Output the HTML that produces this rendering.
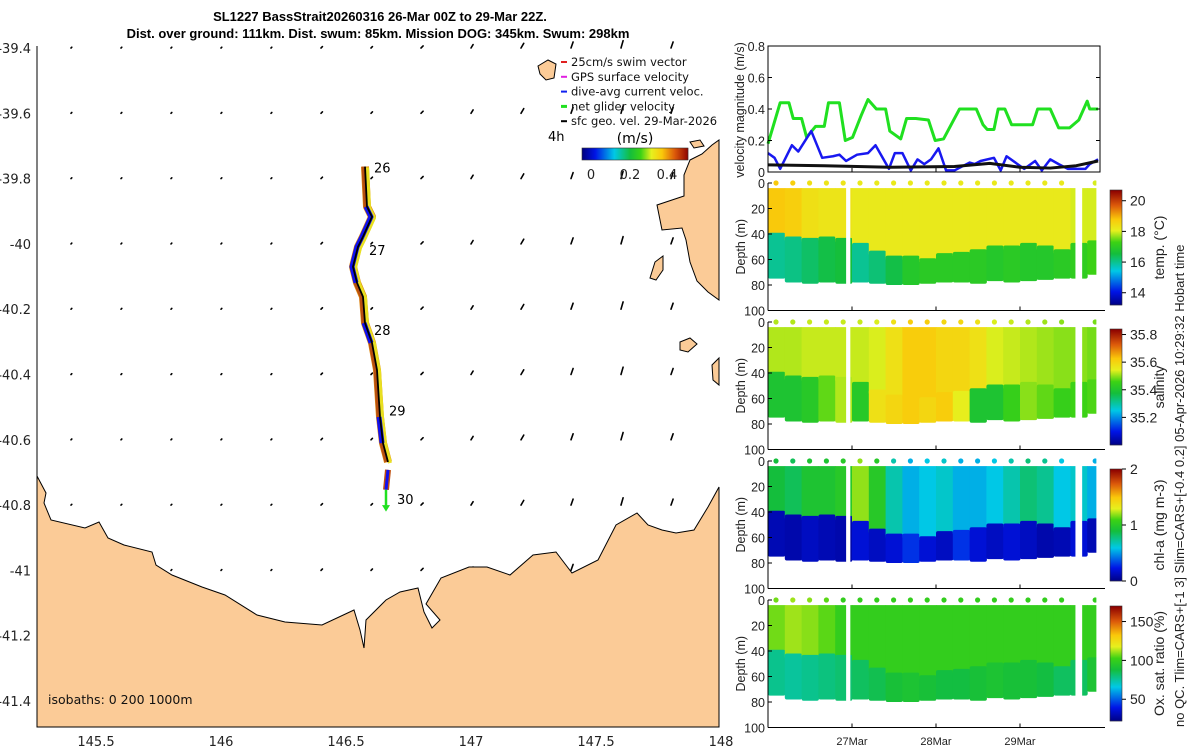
<!DOCTYPE html>
<html><head><meta charset="utf-8">
<style>
html,body{margin:0;padding:0;background:#fff;}
svg{display:block;font-family:"Liberation Sans",sans-serif;}
#map{font-family:"DejaVu Sans","Liberation Sans",sans-serif;}
</style></head>
<body>
<svg id="fig" width="1200" height="750" viewBox="0 0 1200 750" xmlns="http://www.w3.org/2000/svg">
<text x="380" y="21" text-anchor="middle" font-size="13" font-weight="bold">SL1227 BassStrait20260316 26-Mar 00Z to 29-Mar 22Z.</text>
<text x="378" y="38" text-anchor="middle" font-size="13" font-weight="bold">Dist. over ground: 111km. Dist. swum: 85km. Mission DOG: 345km. Swum: 298km</text>
<g id="map"></g>
<g id="vel"></g>
<g id="sections"></g>
<text transform="translate(1184,727) rotate(-90)" font-size="13" fill="#222">no QC. Tlim=CARS+[-1 3] Slim=CARS+[-0.4 0.2] 05-Apr-2026 10:29:32 Hobart time</text>
</svg>
<script>
const NS="http://www.w3.org/2000/svg";
function mk(tag,attrs,parent,text){const e=document.createElementNS(NS,tag);for(const k in attrs)e.setAttribute(k,attrs[k]);if(text!==undefined)e.textContent=text;parent.appendChild(e);return e;}

// ---------- MAP DATA ----------
const lonTicks=[145.5,146,146.5,147,147.5,148];
const latTicks=[-39.4,-39.6,-39.8,-40,-40.2,-40.4,-40.6,-40.8,-41,-41.2,-41.4];
const trackLon=[146.576,146.584,146.604,146.568,146.548,146.528,146.544,146.568,146.576,146.604,146.624,146.636,146.648,146.668];
const trackLat=[-39.763,-39.886,-39.917,-39.978,-40.009,-40.070,-40.119,-40.162,-40.242,-40.303,-40.386,-40.530,-40.610,-40.668];
const track2Lon=[146.668,146.660];
const track2Lat=[-40.692,-40.753];
const dayLabels=["26","27","28","29","30"];
const dayLon=[146.612,146.592,146.612,146.672,146.704];
const dayLat=[-39.766,-40.018,-40.263,-40.510,-40.781];
const vecLon=[145.4,145.6,145.8,146.0,146.2,146.4,146.6,146.8,147.0,147.2,147.4,147.6,147.8];
const vecLat=[-39.4,-39.6,-39.8,-40.0,-40.2,-40.4,-40.6,-40.8,-41.0];
const vecU=[0.0,0.0,0.0,0.0,0.0,0.005,0.005,0.01,0.01,0.015,0.01,0.01,0.01];
const vecV=[0.0,0.0,0.0,0.0,0.0,0.005,0.005,0.01,0.02,0.03,0.04,0.05,0.04];

const X=lon=>221+(lon-146)*250;
const Y=lat=>48+(-39.4-lat)*326.5;
const map=document.getElementById('map');
mk('rect',{x:37,y:46,width:682,height:681,fill:'#fff'},map);
for(let j=0;j<vecLat.length;j++)for(let i=0;i<vecLon.length;i++){
  const x=X(vecLon[i]),y=Y(vecLat[j]);
  const a=mk('line',{x1:x,y1:y,x2:x+vecU[i]*130+0.8,y2:y-vecV[i]*130-0.8,stroke:'#000','stroke-width':1.6,'stroke-linecap':'round'},map);
  
  
}
mk('polygon',{fill:'#fbcb97',stroke:'#000','stroke-width':1,
 points:'37,476 46,493 44,503 51,520 85,528 99,522 108,538 124,545 152,552 156,565 172,575 202,587 225,595 257,615 285,622 322,625 354,610 360,630 364,648 366,620 386,600 400,592 418,588 424,612 432,628 440,620 426,604 441,578 469,567 487,567 510,575 533,555 556,552 572,573 598,560 616,525 637,513 648,525 662,530 676,533 694,530 708,507 719,487 719,727 37,727'},map);
mk('polygon',{fill:'#fbcb97',stroke:'#000','stroke-width':1,
 points:'690,160 702,154 712,145 719,140 719,300 708,292 697,281 690,262 686,240 682,228 662,230 657,205 672,200 684,196 684,175'},map);
mk('polygon',{fill:'#fbcb97',stroke:'#000','stroke-width':1,points:'650,278 655,262 663,256 663,270 656,280'},map);
mk('polygon',{fill:'#fbcb97',stroke:'#000','stroke-width':1,points:'680,342 690,338 697,344 688,352 680,350'},map);
mk('polygon',{fill:'#fbcb97',stroke:'#000','stroke-width':1,points:'690,142 700,140 704,146 694,148'},map);
mk('polygon',{fill:'#fbcb97',stroke:'#000','stroke-width':1,points:'538,66 548,60 556,64 554,78 546,80 540,74'},map);
mk('polygon',{fill:'#fbcb97',stroke:'#000','stroke-width':1,points:'712,365 719,358 719,385 713,380'},map);
function pts(lo,la){return lo.map((v,i)=>X(v)+','+Y(la[i])).join(' ');}
const tp=pts(trackLon,trackLat);
mk('polyline',{points:tp,fill:'none',stroke:'#e08a10','stroke-width':8,'stroke-linejoin':'round'},map);
mk('polyline',{points:tp,fill:'none',stroke:'#e8e020','stroke-width':4,'stroke-linejoin':'round',transform:'translate(2,1)'},map);
mk('polyline',{points:tp,fill:'none',stroke:'#b85010','stroke-width':3,'stroke-linejoin':'round',transform:'translate(-2,0)'},map);
const blueIdx=[[1,3],[3,6],[8,9],[11,12]];
blueIdx.forEach(b=>{mk('polyline',{points:pts(trackLon.slice(b[0],b[1]+1),trackLat.slice(b[0],b[1]+1)),fill:'none',stroke:'#1010f0','stroke-width':5,'stroke-linejoin':'round',transform:'translate(-1,0)'},map);});
mk('polyline',{points:tp,fill:'none',stroke:'#000','stroke-width':1.8},map);
const t2=pts(track2Lon,track2Lat);
mk('polyline',{points:t2,fill:'none',stroke:'#c05010','stroke-width':6},map);
mk('polyline',{points:t2,fill:'none',stroke:'#1010f0','stroke-width':3},map);
mk('line',{x1:X(146.660),y1:Y(-40.753),x2:X(146.660),y2:Y(-40.81),stroke:'#20e020','stroke-width':2.5},map);
mk('polygon',{fill:'#20e020',points:`${X(146.660)-4},${Y(-40.80)} ${X(146.660)+4},${Y(-40.80)} ${X(146.660)},${Y(-40.82)}`},map);
dayLabels.forEach((d,i)=>{const t=mk('text',{x:X(dayLon[i]),y:Y(dayLat[i])+5,'font-size':13},map,d);});
mk('line',{x1:37,y1:46,x2:37,y2:727,stroke:'#000'},map);
mk('line',{x1:37,y1:727,x2:719,y2:727,stroke:'#000'},map);
lonTicks.forEach(l=>{const t=mk('text',{x:X(l),y:746,'text-anchor':'middle','font-size':13,fill:'#222'},map,String(l));});
latTicks.forEach(l=>{const t=mk('text',{x:31,y:Y(l)+5,'text-anchor':'end','font-size':13,fill:'#222'},map,String(l));});
mk('text',{x:48,y:704,'font-size':12.5,fill:'#111'},map,'isobaths: 0   200  1000m');
const legT=["25cm/s swim vector","GPS surface velocity","dive-avg current veloc.","net glider velocity","sfc geo. vel. 29-Mar-2026"];
const legC=["#e02020","#e020e0","#1020f0","#20e020","#000"];
legT.forEach((s,i)=>{const y=66+i*14.8;mk('line',{x1:561,y1:y-4,x2:567,y2:y-4,stroke:legC[i],'stroke-width':i==3?3:2},map);const t=mk('text',{x:571,y:y,'font-size':11.5,fill:'#111'},map,s);});
mk('text',{x:548,y:141,'font-size':13},map,'4h');
mk('text',{x:635,y:143,'font-size':14,'text-anchor':'middle'},map,'(m/s)');

const cmStops=[[0,[0,0,130]],[0.12,[0,20,230]],[0.3,[0,200,230]],[0.45,[20,190,60]],[0.55,[60,210,20]],[0.65,[230,240,30]],[0.75,[250,200,10]],[0.87,[220,90,10]],[1,[140,0,0]]];
function cmap(f){f=Math.max(0,Math.min(1,f));for(let k=1;k<cmStops.length;k++){if(f<=cmStops[k][0]){const a=cmStops[k-1],b=cmStops[k];const u=(f-a[0])/(b[0]-a[0]);return 'rgb('+a[1].map((c,i)=>Math.round(c+(b[1][i]-c)*u)).join(',')+')';}}return 'rgb(140,0,0)';}
function hbar(parent,x,y,w,h){for(let i=0;i<w;i++)mk('rect',{x:x+i,y:y,width:1.2,height:h,fill:cmap(i/w)},parent);mk('rect',{x:x,y:y,width:w,height:h,fill:'none',stroke:'#333','stroke-width':0.6},parent);}
function vbar(parent,x,y,w,h){for(let i=0;i<h;i++)mk('rect',{x:x,y:y+i,width:w,height:1.2,fill:cmap(1-i/h)},parent);mk('rect',{x:x,y:y,width:w,height:h,fill:'none',stroke:'#333','stroke-width':0.6},parent);}
const mcb=mk('g',{},map);
hbar(mcb,582,148,106,12);
[["0",591],["0.2",630],["0.4",667]].forEach(a=>mk('text',{x:a[1],y:179,'font-size':13,'text-anchor':'middle',fill:'#222'},mcb,a[0]));

// ---------- VELOCITY PANEL ----------
const greenT=[0,0.145,0.249,0.30,0.40,0.46,0.567,0.67,0.72,0.85,0.92,1.007,1.11,1.19,1.29,1.40,1.45,1.58,1.65,1.76,1.91,1.99,2.09,2.20,2.28,2.48,2.56,2.61,2.69,2.74,2.82,2.90,3.15,3.21,3.36,3.46,3.59,3.70,3.80,3.83,3.93];
const greenV=[0.18,0.44,0.44,0.34,0.34,0.22,0.29,0.29,0.44,0.44,0.20,0.22,0.36,0.46,0.40,0.40,0.26,0.21,0.34,0.34,0.33,0.20,0.21,0.32,0.40,0.40,0.30,0.27,0.27,0.40,0.40,0.30,0.30,0.40,0.40,0.28,0.28,0.33,0.45,0.40,0.40];
const blueT=[0,0.078,0.145,0.285,0.36,0.515,0.645,0.774,0.85,0.93,1.06,1.19,1.28,1.44,1.51,1.60,1.70,1.78,1.86,1.94,2.03,2.12,2.22,2.40,2.46,2.53,2.69,2.77,2.84,3.05,3.18,3.26,3.36,3.46,3.57,3.78,3.83,3.93];
const blueV=[0.12,0.09,0.02,0.17,0.13,0.26,0.09,0.10,0.11,0.07,0.11,0.12,0.17,0.02,0.12,0.12,0.01,0.08,0.05,0.08,0.15,0.01,0.01,0.06,0.05,0.07,0.09,0.01,0.10,0.02,0.07,0.01,0.08,0.05,0.02,0.02,0.05,0.08];
const blackT=[0,0.67,1.45,2.22,2.64,3.00,3.36,3.67,3.93];
const blackV=[0.045,0.04,0.03,0.035,0.055,0.03,0.025,0.04,0.07];
const velTicks=[0,0.2,0.4,0.6,0.8];
const TX=t=>768+t*84;
const VY=v=>172-v*157.5;
const vel=document.getElementById('vel');
function series(T,V,col,w,name){const p=mk('polyline',{points:T.map((t,i)=>TX(t)+','+VY(V[i])).join(' '),fill:'none',stroke:col,'stroke-width':w,'stroke-linejoin':'round'},vel);}
series(greenT,greenV,'#20e020',3,'net-glider-velocity-line');
series(blueT,blueV,'#1818f0',2.5,'dive-avg-current-line');
series(blackT,blackV,'#111',3,'sfc-geo-velocity-line');
mk('rect',{x:768,y:46,width:332,height:126,fill:'none',stroke:'#000','stroke-width':1},vel);
velTicks.forEach(v=>{mk('line',{x1:768,y1:VY(v),x2:772,y2:VY(v),stroke:'#000'},vel);mk('line',{x1:1096,y1:VY(v),x2:1100,y2:VY(v),stroke:'#000'},vel);const t=mk('text',{x:765,y:VY(v)+5,'text-anchor':'end','font-size':12.5,fill:'#222'},vel,String(v));});
[1,2,3].forEach(d=>mk('line',{x1:TX(d),y1:172,x2:TX(d),y2:168,stroke:'#000'},vel));
mk('text',{transform:'translate(744,110) rotate(-90)','text-anchor':'middle','font-size':12.5,fill:'#222'},vel,'velocity magnitude (m/s)');

// ---------- SECTION PANELS ----------
const colT=[0,0.2,0.4,0.6,0.8,1.0,1.2,1.4,1.6,1.8,2.0,2.2,2.4,2.6,2.8,3.0,3.2,3.4,3.6,3.8];
const mld=[42,45,46,45,46,50,56,60,60,62,58,57,55,52,52,50,52,55,50,48];
const botDepth=[75,78,79,78,79,78,79,80,80,79,78,78,79,77,78,77,76,75,75,72];
const gaps=[[0.93,0.98],[3.66,3.74],[3.91,4.0]];
const tempUp=[18.8,18.7,18.4,18.3,18.3,18.2,18.2,18.2,18.2,18.2,18.2,18.2,18.2,18.2,18.2,18.2,18.2,18.2,18.0,18.0];
const tempLo=[16.0,16.1,16.3,16.5,16.6,16.0,16.2,16.5,16.9,17.0,17.0,17.0,17.0,16.9,17.0,16.9,16.9,17.0,17.1,17.3];
const salUp=[35.52,35.52,35.53,35.53,35.53,35.53,35.54,35.58,35.62,35.62,35.60,35.60,35.58,35.54,35.53,35.52,35.51,35.50,35.50,35.49];
const salLo=[35.40,35.40,35.42,35.48,35.52,35.42,35.58,35.60,35.62,35.60,35.62,35.55,35.40,35.40,35.45,35.50,35.48,35.45,35.46,35.47];
const chlUp=[0.9,0.85,0.95,0.95,1.0,1.2,1.0,0.7,0.55,0.6,0.65,0.55,0.55,0.6,0.7,0.8,0.75,0.6,0.65,0.55];
const chlLo=[0.12,0.1,0.15,0.12,0.1,0.2,0.15,0.2,0.3,0.2,0.15,0.3,0.2,0.15,0.2,0.15,0.1,0.12,0.2,0.12];
const oxUp=[108,112,110,106,100,100,100,100,100,100,100,100,100,100,100,100,100,100,100,100];
const oxLo=[78,76,78,80,82,84,86,90,92,90,88,88,90,92,90,90,88,84,84,92];
const panels=[
 {name:'temperature',top:183,up:tempUp,lo:tempLo,min:13.2,max:20.7,ticks:[14,16,18,20],label:'temp. (°C)',cb:[190,115]},
 {name:'salinity',top:322,up:salUp,lo:salLo,min:35.0,max:35.84,ticks:[35.2,35.4,35.6,35.8],label:'salinity',cb:[329,116]},
 {name:'chlorophyll',top:461,up:chlUp,lo:chlLo,min:0,max:2,ticks:[0,1,2],label:'chl-a (mg m-3)',cb:[469,112]},
 {name:'oxygen',top:600,up:oxUp,lo:oxLo,min:22,max:170,ticks:[50,100,150],label:'Ox. sat. ratio (%)',cb:[606,115]}];
const depthTicks=[0,20,40,60,80,100];
const sec=document.getElementById('sections');
panels.forEach((p,pi)=>{
  const g=mk('g',{},sec);
  
  
  const DY=d=>p.top+d*1.275;
  const f=v=>(v-p.min)/(p.max-p.min);
  colT.forEach((t,i)=>{
    const x=TX(t),w=84*0.2+0.5;
    const r1=mk('rect',{x:x,y:DY(4),width:w,height:DY(mld[i])-DY(4),fill:cmap(f(p.up[i]))},g);
    
    
    const r2=mk('rect',{x:x,y:DY(mld[i]-3),width:w,height:DY(botDepth[i])-DY(mld[i]-3),fill:cmap(f(p.lo[i])),rx:2},g);
    
    
    mk('circle',{cx:x+8,cy:DY(0),r:2.6,fill:cmap(f(p.up[i]))},g);
  });
  gaps.forEach(gp=>mk('rect',{x:TX(gp[0]),y:DY(0)-4,width:TX(gp[1])-TX(gp[0]),height:DY(100)-DY(0)+3,fill:'#fff'},g));
  mk('rect',{x:TX(3.91),y:DY(0)-4,width:20,height:132,fill:'#fff'},g);
  mk('line',{x1:768,y1:DY(0),x2:768,y2:DY(100),stroke:'#000'},g);
  mk('line',{x1:768,y1:DY(100),x2:1105,y2:DY(100),stroke:'#000'},g);
  [1,2,3].forEach(d=>mk('line',{x1:TX(d),y1:DY(100),x2:TX(d),y2:DY(100)-4,stroke:'#000'},g));
  depthTicks.forEach(d=>{mk('line',{x1:768,y1:DY(d),x2:772,y2:DY(d),stroke:'#000'},g);const t=mk('text',{x:765,y:DY(d)+5,'text-anchor':'end','font-size':12.5,fill:'#222'},g,String(d));});
  mk('text',{transform:`translate(745,${DY(50)}) rotate(-90)`,'text-anchor':'middle','font-size':12.5,fill:'#222'},g,'Depth (m)');
  const cb=mk('g',{},g);
  
  
  vbar(cb,1110,p.cb[0],12,p.cb[1]);
  const CY=v=>p.cb[0]+p.cb[1]*(1-f(v));
  p.ticks.forEach(v=>{mk('line',{x1:1122,y1:CY(v),x2:1126,y2:CY(v),stroke:'#000'},cb);mk('text',{x:1130,y:CY(v)+5,'font-size':14,fill:'#222'},cb,String(v));});
  mk('text',{transform:`translate(1164,${p.cb[0]+p.cb[1]/2}) rotate(-90)`,'text-anchor':'middle','font-size':14,fill:'#222'},cb,p.label);
});
const dates=["27Mar","28Mar","29Mar"];
dates.forEach((d,i)=>{const t=mk('text',{x:TX(i+1),y:745,'text-anchor':'middle','font-size':11,fill:'#222'},sec,d);});
</script>
</body></html>
